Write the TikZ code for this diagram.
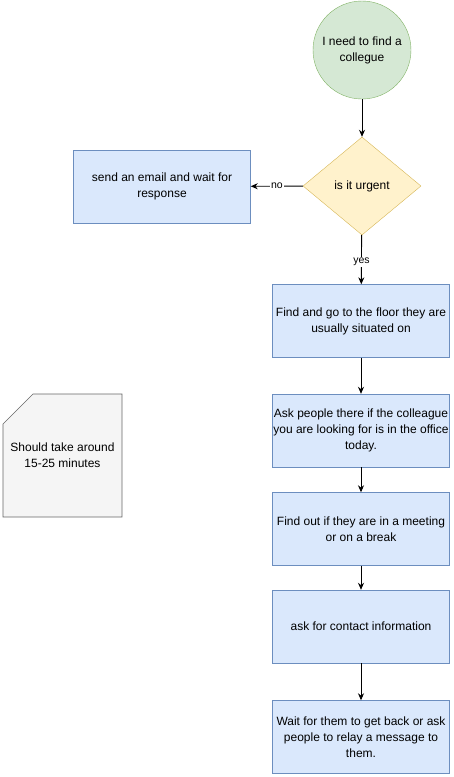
\documentclass[tikz,border=0pt]{standalone}
\usepackage{fontspec}
\setmainfont{Liberation Sans}
\usetikzlibrary{shapes.geometric,arrows.meta}
\definecolor{startfill}{HTML}{D5E8D4}
\definecolor{startline}{HTML}{82B366}
\definecolor{askfill}{HTML}{FFF2CC}
\definecolor{askline}{HTML}{D6B656}
\definecolor{stepfill}{HTML}{DAE8FC}
\definecolor{stepline}{HTML}{6C8EBF}
\definecolor{notefill}{HTML}{F5F5F5}
\definecolor{noteline}{HTML}{666666}
\tikzset{
	stepbox/.style={draw=stepline, fill=stepfill, rectangle, minimum width=177pt, minimum height=73pt, inner sep=0pt, align=center, font=\fontsize{12}{16}\selectfont},
	flow/.style={draw, line width=0.9pt, -{Stealth[length=7pt,width=6pt]}},
	flowlabel/.style={fill=white, inner sep=1pt, font=\fontsize{10.5}{12}\selectfont}
}
\begin{document}
\begin{tikzpicture}[x=1pt, y=-1pt]
	\useasboundingbox (0,0) rectangle (453,777);
	\node[draw=startline, fill=startfill, circle, minimum size=98pt, inner sep=0pt, align=center, font=\fontsize{12}{16}\selectfont] (start) at (362,50) {I need to find a\\collegue};
	\node[draw=askline, fill=askfill, diamond, minimum width=118pt, minimum height=98pt, inner sep=0pt, font=\fontsize{12}{16}\selectfont] (urgent) at (362,186) {is it urgent};
	\node[stepbox] (email) at (162,186.5) {send an email and wait for\\response};
	\node[stepbox] (floor) at (361,321) {Find and go to the floor they are\\usually situated on};
	\node[stepbox] (people) at (361,430.5) {Ask people there if the colleague\\you are looking for is in the office\\today.};
	\node[stepbox] (meeting) at (361,529) {Find out if they are in a meeting\\or on a break};
	\node[stepbox] (contact) at (361,626.5) {ask for contact information};
	\node[stepbox] (waitback) at (361,737) {Wait for them to get back or ask\\people to relay a message to\\them.};
	\draw[draw=noteline, fill=notefill, line width=0.6pt] (33,394) -- (122,394) -- (122,517) -- (3,517) -- (3,424) -- cycle;
	\node[align=center, font=\fontsize{12}{16}\selectfont] (note) at (62.5,455) {Should take around\\15-25 minutes};
	\draw[flow] (start) -- (urgent);
	\draw[flow] (urgent) -- node[flowlabel] {no} (email);
	\draw[flow] (urgent) -- node[flowlabel, pos=0.55] {yes} (floor);
	\draw[flow] (floor) -- (people);
	\draw[flow] (people) -- (meeting);
	\draw[flow] (meeting) -- (contact);
	\draw[flow] (contact) -- (waitback);
\end{tikzpicture}
\end{document}
